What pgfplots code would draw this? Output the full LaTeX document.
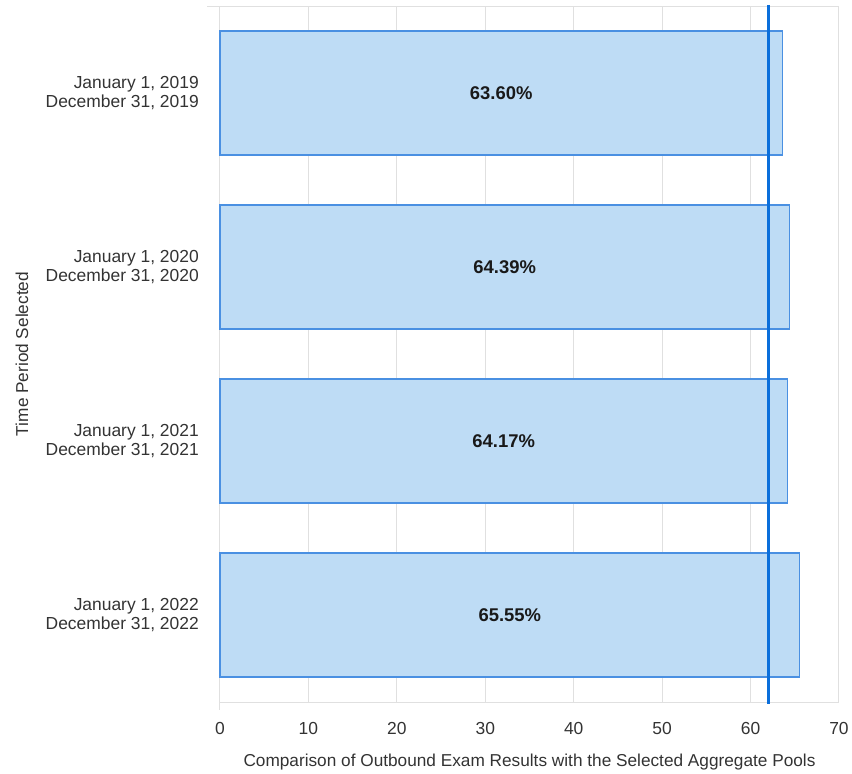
\documentclass[border=0pt]{standalone}
\usepackage{fontspec}
\setmainfont{Liberation Sans}
\usepackage{pgfplots}
\pgfplotsset{compat=1.18}
\usepackage{pgfplotstable}

\definecolor{barfill}{HTML}{BEDCF5}
\definecolor{baredge}{HTML}{4A90E2}
\definecolor{refline}{HTML}{0B6FDB}
\definecolor{gridgray}{HTML}{E0E0E0}
\definecolor{txt}{HTML}{333333}

% position, value, printed label
\pgfplotstableread{
pos val lbl
0 63.60 63.60
1 64.39 64.39
2 64.17 64.17
3 65.55 65.55
}\periods

\begin{document}
\begin{tikzpicture}
\begin{axis}[
    at={(0,0)}, anchor=south west,
    scale only axis, width=619bp, height=696bp,
    xmin=0, xmax=70, ymin=-0.5, ymax=3.5, y dir=reverse,
    clip=false,
    xtick={0,10,...,70},
    ytick={0,1,2,3},
    yticklabels={{January 1, 2019\\December 31, 2019},
                 {January 1, 2020\\December 31, 2020},
                 {January 1, 2021\\December 31, 2021},
                 {January 1, 2022\\December 31, 2022}},
    major tick length=0pt,
    xmajorgrids,
    major grid style={gridgray, line width=1bp},
    axis line style={gridgray, line width=1bp},
    /pgf/number format/assume math mode=true,
    ticklabel style={font=\fontsize{17.5}{19.5}\selectfont, text=txt},
    xticklabel style={anchor=north, inner sep=0pt, yshift=-20bp},
    yticklabel style={align=right, anchor=east, inner sep=0pt, xshift=-21bp},
    xlabel={Comparison of Outbound Exam Results with the Selected Aggregate Pools},
    ylabel={Time Period Selected},
    label style={font=\fontsize{17.3}{19.5}\selectfont, text=txt},
    xlabel style={at={(axis description cs:0.5,0)}, anchor=north, inner sep=0pt, yshift=-52bp},
    ylabel style={at={(axis description cs:-0.32,0.5)}, anchor=center, inner sep=0pt},
]
\addplot[xbar, bar width=0.71, bar shift=0pt, fill=barfill, draw=baredge, line width=1.5bp]
    table[x=val, y=pos]{\periods};
\addplot[draw=none, mark=none, point meta=explicit symbolic,
    nodes near coords={\pgfplotspointmeta\%},
    every node near coord/.style={anchor=center, font=\fontsize{18.5}{20}\selectfont\bfseries, text=black!90}]
    table[x expr=\thisrow{val}/2, y=pos, meta=lbl]{\periods};
\addplot[refline, line width=3.5bp] coordinates {(62,-0.506) (62,3.512)};
\draw[gridgray, line width=1bp] (axis cs:0,3.5) -- (axis cs:0,3.546);
\draw[gridgray, line width=1bp] (axis cs:0,-0.5) -- (axis cs:-1.47,-0.5);
\end{axis}
\pgfresetboundingbox
\useasboundingbox (-220bp,-72bp) rectangle (632bp,702bp);
\end{tikzpicture}
\end{document}
